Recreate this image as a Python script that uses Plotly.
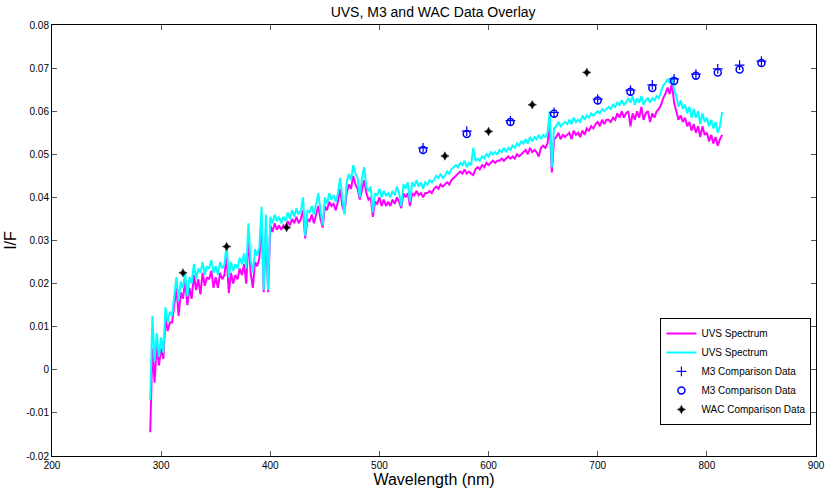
import numpy as np
import plotly.graph_objects as go

# UVS spectrum (magenta), every 2 nm starting at 290 nm
uvs_magenta = [
    -0.0145, 0.005, -0.003, 0.006, 0.001, 0.005, 0.0025, 0.012, 0.009, 0.011,
    0.011, 0.015, 0.019, 0.0125, 0.018, 0.0165, 0.0205, 0.015, 0.019, 0.0165,
    0.022, 0.0185, 0.021, 0.0175, 0.0225, 0.0195, 0.0215, 0.021, 0.023, 0.019,
    0.0215, 0.019, 0.0225, 0.021, 0.022, 0.0265, 0.0178, 0.0225, 0.020, 0.022,
    0.021, 0.0235, 0.022, 0.0245, 0.020, 0.031, 0.0225, 0.019, 0.025, 0.024,
    0.026, 0.035, 0.018, 0.033, 0.018, 0.0335, 0.032, 0.034, 0.0325, 0.0335,
    0.0325, 0.0335, 0.033, 0.0345, 0.0335, 0.035, 0.034, 0.0355, 0.034, 0.035,
    0.037, 0.0305, 0.035, 0.0345, 0.036, 0.034, 0.036, 0.038, 0.035, 0.033,
    0.038, 0.037, 0.039, 0.038, 0.0385, 0.037, 0.039, 0.042, 0.038, 0.0365,
    0.041, 0.043, 0.042, 0.045, 0.043, 0.042, 0.0395, 0.042, 0.044, 0.041,
    0.0395, 0.040, 0.0355, 0.039, 0.0385, 0.040, 0.038, 0.0395, 0.038, 0.039,
    0.038, 0.0395, 0.0385, 0.040, 0.039, 0.0375, 0.041, 0.040, 0.041, 0.038,
    0.041, 0.0405, 0.0415, 0.0405, 0.041, 0.040, 0.041, 0.041, 0.0415, 0.041,
    0.042, 0.0425, 0.042, 0.043, 0.0425, 0.043, 0.0435, 0.043, 0.044, 0.0445,
    0.045, 0.0455, 0.046, 0.0455, 0.0465, 0.0455, 0.046, 0.0455, 0.0452, 0.0465,
    0.047, 0.0465, 0.0475, 0.047, 0.048, 0.0475, 0.048, 0.0485, 0.048, 0.0485,
    0.0485, 0.049, 0.0485, 0.049, 0.0495, 0.049, 0.0495, 0.049, 0.050, 0.0495,
    0.050, 0.0505, 0.051, 0.050, 0.0515, 0.0505, 0.051, 0.0505, 0.0495, 0.0515,
    0.052, 0.0515, 0.0525, 0.057, 0.0458, 0.0535, 0.054, 0.055, 0.0535, 0.0545,
    0.054, 0.0545, 0.055, 0.0535, 0.0555, 0.0545, 0.055, 0.054, 0.0555, 0.0545,
    0.056, 0.0555, 0.0565, 0.056, 0.057, 0.0575, 0.0565, 0.058, 0.057, 0.058,
    0.058, 0.0575, 0.0585, 0.058, 0.0595, 0.0585, 0.060, 0.0585, 0.0595, 0.060,
    0.0565, 0.0595, 0.058, 0.060, 0.0585, 0.061, 0.058, 0.0595, 0.060, 0.0575,
    0.0595, 0.0585, 0.060, 0.0605, 0.0615, 0.063, 0.064, 0.0655, 0.064, 0.0665,
    0.062, 0.060, 0.058, 0.059, 0.0575, 0.0585, 0.0565, 0.0575, 0.0555, 0.057,
    0.055, 0.0565, 0.054, 0.0565, 0.0545, 0.055, 0.053, 0.0545, 0.0525, 0.054,
    0.052, 0.0535, 0.0545,
]

# UVS spectrum (cyan), every 2 nm starting at 290 nm
uvs_cyan = [
    -0.007, 0.0125, 0.002, 0.0085, 0.003, 0.0075, 0.004, 0.0145, 0.011, 0.0135,
    0.0125, 0.0175, 0.0215, 0.016, 0.0205, 0.019, 0.0225, 0.017, 0.0215, 0.020,
    0.0245, 0.021, 0.0235, 0.0225, 0.025, 0.022, 0.024, 0.0235, 0.0255, 0.0225,
    0.024, 0.022, 0.025, 0.0235, 0.0245, 0.029, 0.0215, 0.025, 0.023, 0.0245,
    0.0235, 0.026, 0.0245, 0.027, 0.0235, 0.034, 0.0255, 0.0225, 0.028, 0.0265,
    0.0285, 0.0378, 0.0185, 0.036, 0.0185, 0.0355, 0.034, 0.036, 0.0345, 0.0355,
    0.034, 0.0355, 0.0345, 0.0365, 0.035, 0.037, 0.0355, 0.0375, 0.036, 0.037,
    0.040, 0.031, 0.037, 0.0365, 0.038, 0.036, 0.0385, 0.041, 0.037, 0.0335,
    0.040, 0.0385, 0.041, 0.0395, 0.0405, 0.039, 0.041, 0.0445, 0.040, 0.036,
    0.0435, 0.0455, 0.044, 0.0475, 0.0455, 0.0445, 0.040, 0.0445, 0.047, 0.0425,
    0.0415, 0.0425, 0.0365, 0.041, 0.0405, 0.042, 0.040, 0.0415, 0.0405, 0.041,
    0.040, 0.0415, 0.0405, 0.0425, 0.041, 0.038, 0.043, 0.042, 0.0435, 0.039,
    0.0435, 0.0425, 0.044, 0.0425, 0.0435, 0.042, 0.0435, 0.043, 0.044, 0.0435,
    0.044, 0.045, 0.0445, 0.0455, 0.0445, 0.045, 0.046, 0.0455, 0.0465, 0.047,
    0.0475, 0.047, 0.048, 0.0475, 0.0485, 0.047, 0.048, 0.0475, 0.0515, 0.0485,
    0.049, 0.0485, 0.0495, 0.049, 0.050, 0.0495, 0.0505, 0.050, 0.0505, 0.050,
    0.051, 0.0505, 0.0515, 0.0505, 0.0515, 0.051, 0.052, 0.0515, 0.0525, 0.052,
    0.053, 0.0525, 0.0535, 0.0525, 0.054, 0.053, 0.054, 0.0535, 0.0545, 0.0535,
    0.0545, 0.054, 0.055, 0.060, 0.047, 0.056, 0.0565, 0.0575, 0.0565, 0.057,
    0.0575, 0.057, 0.058, 0.057, 0.0585, 0.0575, 0.058, 0.0575, 0.059, 0.058,
    0.059, 0.0585, 0.0595, 0.059, 0.0595, 0.060, 0.0595, 0.0605, 0.060, 0.0605,
    0.061, 0.0605, 0.0615, 0.061, 0.062, 0.0615, 0.0625, 0.0615, 0.062, 0.063,
    0.062, 0.0635, 0.0615, 0.063, 0.062, 0.0635, 0.0615, 0.0625, 0.063, 0.062,
    0.063, 0.0625, 0.0635, 0.063, 0.0645, 0.066, 0.0665, 0.0675, 0.0665, 0.068,
    0.065, 0.0635, 0.061, 0.0625, 0.0605, 0.0615, 0.0595, 0.061, 0.0585, 0.0605,
    0.0585, 0.060, 0.057, 0.0595, 0.0575, 0.0585, 0.0565, 0.058, 0.056, 0.0575,
    0.055, 0.0565, 0.0598,
]

# Wavelength grid of the UVS spectra (nm): 2 nm spacing from 290 nm
uvs_wavelength = 290 + 2 * np.arange(len(uvs_cyan))

# M3 comparison data
m3_wavelength = [540, 580, 620, 660, 700, 730, 750, 770, 790, 810, 830, 850]
m3_plus = [0.0515, 0.0554, 0.0578, 0.0597, 0.0628, 0.0649, 0.0661, 0.0675, 0.0686, 0.0698, 0.0707, 0.0716]
m3_circle = [0.0510, 0.0547, 0.0575, 0.0594, 0.0625, 0.0645, 0.0654, 0.0670, 0.0682, 0.0690, 0.0697, 0.0712]

# WAC comparison data
wac_wavelength = [320, 360, 415, 560, 600, 640, 690]
wac_values = [0.0225, 0.0286, 0.0330, 0.0496, 0.0553, 0.0615, 0.0690]

x_ticks = [200, 300, 400, 500, 600, 700, 800, 900]
y_ticks = [-0.02, -0.01, 0, 0.01, 0.02, 0.03, 0.04, 0.05, 0.06, 0.07, 0.08]
y_tick_labels = ["-0.02", "-0.01", "0", "0.01", "0.02", "0.03", "0.04", "0.05", "0.06", "0.07", "0.08"]

FONT = "Liberation Sans, Arial, sans-serif"

fig = go.Figure()
fig.add_trace(go.Scatter(x=uvs_wavelength, y=uvs_magenta, mode="lines",
                         line=dict(color="#FF00FF", width=2), name="UVS Spectrum"))
fig.add_trace(go.Scatter(x=uvs_wavelength, y=uvs_cyan, mode="lines",
                         line=dict(color="#00FFFF", width=2), name="UVS Spectrum"))
fig.add_trace(go.Scatter(x=m3_wavelength, y=m3_plus, mode="markers",
                         marker=dict(symbol="cross-thin-open", size=7, color="#0000FF",
                                     line=dict(color="#0000FF", width=1.2)),
                         name="M3 Comparison Data"))
fig.add_trace(go.Scatter(x=m3_wavelength, y=m3_circle, mode="markers",
                         marker=dict(symbol="circle-open", size=7, color="#0000FF",
                                     line=dict(color="#0000FF", width=1.5)),
                         name="M3 Comparison Data"))
fig.add_trace(go.Scatter(x=wac_wavelength, y=wac_values, mode="markers",
                         marker=dict(symbol="star-diamond", size=6, color="#000000",
                                     line=dict(color="#000000", width=0.5)),
                         name="WAC Comparison Data"))

fig.update_layout(
    width=825, height=495,
    paper_bgcolor="white", plot_bgcolor="white",
    margin=dict(l=52, r=9, t=25, b=39),
    font=dict(family=FONT, color="#000000"),
    title=dict(text="UVS, M3 and WAC Data Overlay", x=0.525, xanchor="center",
               y=0.976, yanchor="middle", font=dict(size=14, family=FONT)),
    showlegend=True,
    legend=dict(x=0.994, y=0.072, xanchor="right", yanchor="bottom",
                bgcolor="white", bordercolor="#000000", borderwidth=1,
                font=dict(size=10, family=FONT), tracegroupgap=0,
                itemwidth=30),
)
fig.update_xaxes(range=[200, 900], tickvals=x_ticks, ticks="inside", ticklen=5,
                 tickcolor="#555555", showline=True, linecolor="#000000", linewidth=1,
                 mirror="ticks", showgrid=False, zeroline=False, automargin=False,
                 tickfont=dict(size=10, family=FONT),
                 title=dict(text="Wavelength (nm)", font=dict(size=16, family=FONT), standoff=2))
fig.update_yaxes(range=[-0.02, 0.08], tickvals=y_ticks, ticktext=y_tick_labels,
                 ticks="inside", ticklen=5,
                 tickcolor="#555555", showline=True, linecolor="#000000", linewidth=1,
                 mirror="ticks", showgrid=False, zeroline=False, automargin=False,
                 tickfont=dict(size=10, family=FONT),
                 title=dict(text="I/F", font=dict(size=16, family=FONT), standoff=5))

fig.write_html("out.html",
               config={"displayModeBar": False},
               post_script="document.body.style.margin='0';"
                           "document.documentElement.style.overflow='hidden';")
